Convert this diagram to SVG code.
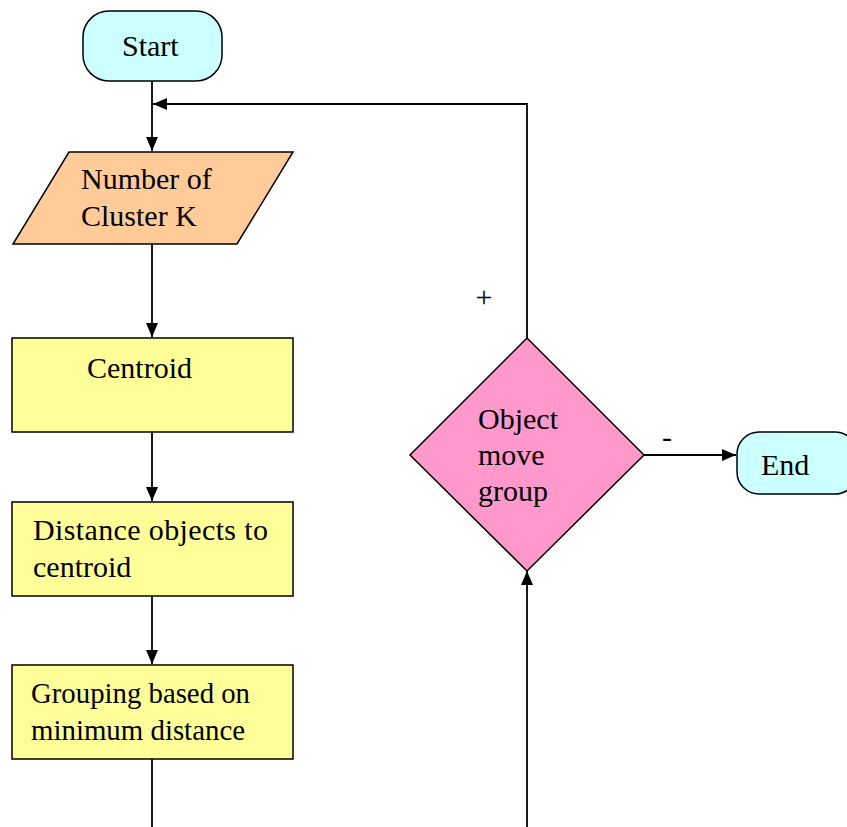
<svg xmlns="http://www.w3.org/2000/svg" width="847" height="827" viewBox="0 0 847 827">
  <style>
    .lbl { font-family: "Liberation Serif", "Times New Roman", serif; font-size: 30px; fill: #000; }
    .sign { font-family: "Liberation Serif", "Times New Roman", serif; font-size: 30px; fill: #000; text-anchor: middle; }
    .node { stroke: #000; stroke-width: 1.5; }
    .term { fill: #CCFFFF; }
    .proc { fill: #FFFF99; }
    .io { fill: #FFCC99; }
    .dec { fill: #FF99CC; }
    .edge { fill: none; stroke: #000; stroke-width: 1.8; }
  </style>
  <defs>
    <marker id="arrow" viewBox="0 0 14 12" refX="14" refY="6" markerWidth="14" markerHeight="12" markerUnits="userSpaceOnUse" orient="auto">
      <path d="M0,0 L14,6 L0,12 Z" fill="#000"/>
    </marker>
  </defs>
  <rect width="847" height="827" fill="#fff"/>

  <g id="edges">
    <path class="edge" d="M152,81 V151" marker-end="url(#arrow)"/>
    <path class="edge" d="M527,338 V104 H153" marker-end="url(#arrow)"/>
    <path class="edge" d="M152,244 V337" marker-end="url(#arrow)"/>
    <path class="edge" d="M152,432 V501" marker-end="url(#arrow)"/>
    <path class="edge" d="M152,596 V664" marker-end="url(#arrow)"/>
    <path class="edge" d="M152,759 V827"/>
    <path class="edge" d="M527,827 V571" marker-end="url(#arrow)"/>
    <path class="edge" d="M644,455 H736" marker-end="url(#arrow)"/>
    <text class="sign" x="484" y="307">+</text>
    <text class="sign" x="667" y="447">-</text>
  </g>

  <g id="start">
    <rect class="node term" x="83" y="11" width="139" height="70" rx="26" ry="26"/>
    <text class="lbl" x="122" y="56">Start</text>
  </g>

  <g id="cluster-count">
    <polygon class="node io" points="69,152 293,152 237,244 13,244"/>
    <text class="lbl" x="81" y="189">Number of</text>
    <text class="lbl" x="81" y="226">Cluster K</text>
  </g>

  <g id="centroid">
    <rect class="node proc" x="12" y="338" width="281" height="94" stroke-width="2.5"/>
    <text class="lbl" x="87" y="378">Centroid</text>
  </g>

  <g id="distance">
    <rect class="node proc" x="12" y="502" width="281" height="94"/>
    <text class="lbl" x="33" y="540" textLength="235" lengthAdjust="spacing">Distance objects to</text>
    <text class="lbl" x="33" y="577">centroid</text>
  </g>

  <g id="grouping">
    <rect class="node proc" x="12" y="665" width="281" height="94"/>
    <text class="lbl" x="31" y="703" textLength="219" lengthAdjust="spacingAndGlyphs">Grouping based on</text>
    <text class="lbl" x="31" y="740" textLength="214" lengthAdjust="spacingAndGlyphs">minimum distance</text>
  </g>

  <g id="decision">
    <polygon class="node dec" points="527,338 644,455 527,571 410,455"/>
    <text class="lbl" x="478" y="429">Object</text>
    <text class="lbl" x="478" y="465">move</text>
    <text class="lbl" x="478" y="501">group</text>
  </g>

  <g id="end">
    <rect class="node term" x="737" y="432" width="120" height="62" rx="22" ry="22"/>
    <text class="lbl" x="761" y="475">End</text>
  </g>
</svg>
